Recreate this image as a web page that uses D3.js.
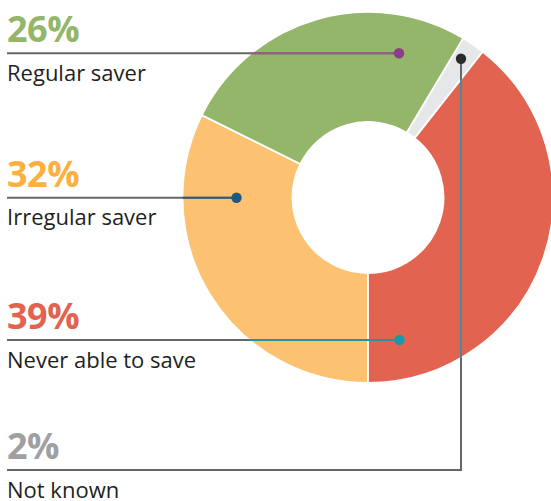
<!DOCTYPE html>
<html><head><meta charset="utf-8">
<script src="https://cdn.jsdelivr.net/npm/d3@7"></script>
<style>body{margin:0;background:#fff}svg{display:block}</style>
</head><body><svg id="c" width="551" height="501"></svg>
<script>
// ---- data ----
const categories = ["Irregular saver", "Regular saver", "Not known", "Never able to save"];
const values = [32, 26, 2, 39];
const pctLabels = ["32%", "26%", "2%", "39%"];
const sliceColors = ["#fcc271", "#93b66a", "#e6e7e8", "#e2634f"];
const textColors = ["#fbb040", "#93b66a", "#a0a0a0", "#e2634f"];
const dotColors = ["#1c5a85", "#8b3d85", "#2b2b2b", "#1b97ab"];
const innerLineColors = ["#2f5f80", "#9b5a8c", "#4a8c99", "#2a8fa0"];

// ---- layout ----
const cx = 368, cy = 197.5, R = 185.5, r0 = 75.5;
const left = 7;
// annotation anchors (leader line y, dot position)
const anno = [
  {lineY: 197.7, dot: [236.5, 197.7]},
  {lineY: 53.3, dot: [399, 53.3]},
  {lineY: 470, dot: [461, 58.7], elbow: true},
  {lineY: 340, dot: [399.5, 340]}
];

const svg = d3.select("#c");
const pie = d3.pie().sort(null).value(d => d).startAngle(Math.PI).endAngle(3 * Math.PI);
const arcs = pie(values);
const arc = d3.arc().innerRadius(r0).outerRadius(R);

const g = svg.append("g").attr("transform", `translate(${cx},${cy})`);
g.selectAll("path").data(arcs).join("path")
  .attr("d", arc).attr("fill", (d, i) => sliceColors[i])
  .attr("stroke", "#fff").attr("stroke-width", 1.8);

// clip for coloured segments (all slices but "Not known")
const clip = svg.append("defs").append("clipPath").attr("id", "donutClip");
clip.selectAll("path").data(arcs.filter((d, i) => i !== 2)).join("path")
  .attr("transform", `translate(${cx},${cy})`).attr("d", arc);

function leader(a) {
  if (a.elbow) return `M${left},${a.lineY}H${a.dot[0]}V${a.dot[1]}`;
  return `M${left},${a.lineY}H${a.dot[0]}`;
}

svg.append("g").selectAll("path").data(anno).join("path")
  .attr("d", leader).attr("fill", "none").attr("stroke", "#666").attr("stroke-width", 2);

svg.append("g").attr("clip-path", "url(#donutClip)").selectAll("path").data(anno).join("path")
  .attr("d", leader).attr("fill", "none").attr("stroke", (d, i) => innerLineColors[i]).attr("stroke-width", 2);

svg.append("g").selectAll("circle").data(anno).join("circle")
  .attr("cx", d => d.dot[0]).attr("cy", d => d.dot[1]).attr("r", 5.2)
  .attr("fill", (d, i) => dotColors[i]);

const tg = svg.append("g");
tg.selectAll("text.pct").data(anno).join("text").attr("class", "pct")
  .attr("x", left).attr("y", d => d.lineY - 11)
  .attr("font-family", "'Open Sans', sans-serif").attr("font-weight", 700).attr("font-size", 36)
  .attr("letter-spacing", -0.5)
  .attr("fill", (d, i) => textColors[i]).text((d, i) => pctLabels[i]);
tg.selectAll("text.lab").data(anno).join("text").attr("class", "lab")
  .attr("x", left).attr("y", d => d.lineY + 27.5)
  .attr("font-family", "'Open Sans', sans-serif").attr("font-size", 22)
  .attr("fill", "#231f20").text((d, i) => categories[i]);
</script></body></html>
